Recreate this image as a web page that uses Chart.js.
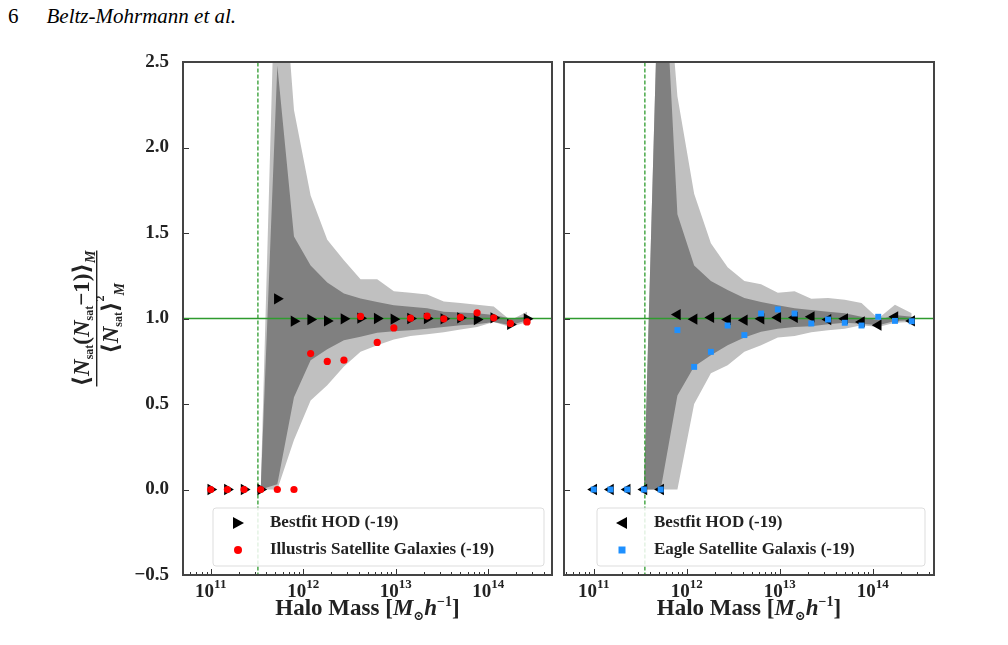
<!DOCTYPE html>
<html lang="en">
<head>
<meta charset="UTF-8">
<title>Nsat second moment</title>
<script src="https://cdn.jsdelivr.net/npm/chart.js"></script>
<style>
  body { margin: 0; background: #fff; width: 1008px; height: 645px; overflow: hidden; position: relative; }
  canvas { position: absolute; top: 0; }
  #hdr { position: absolute; top: 4px; left: 8px; font: 21px "Liberation Serif", serif; }
  #hdr i { margin-left: 28px; }
</style>
</head>
<body>
<div id="hdr">6<i>Beltz-Mohrmann et al.</i></div>
<div style="position:absolute;left:0;top:0;width:560px;height:645px"><canvas id="left"></canvas></div>
<div style="position:absolute;left:556px;top:0;width:400px;height:645px"><canvas id="right"></canvas></div>
<script>
// log10 halo mass bins
const massBins = [11.0, 11.18, 11.36, 11.54, 11.72, 11.9, 12.08, 12.26, 12.44, 12.62,
                  12.8, 12.98, 13.16, 13.34, 13.52, 13.7, 13.88, 14.06, 14.24, 14.42];
const yTicks = [-0.5, 0, 0.5, 1.0, 1.5, 2.0, 2.5];
const xTicks = [11, 12, 13, 14];

// left panel: Illustris
const hodLeft = [0, 0, 0, 0, 1.115, 0.984, 0.994, 0.986, 0.998, 1.002, 1.0, 0.996, 1.0, 1.0, 0.998, 1.004, 0.994, 1.004, 0.965, 0.998];
const illustris = [0, 0, 0, 0, 0, 0, 0.795, 0.749, 0.756, 1.012, 0.86, 0.945, 1.002, 1.014, 0.998, 1.006, 1.033, 1.004, 0.971, 0.98];
const lightUpL = [null, null, null, 0, 3.5, 2.22, 1.72, 1.46, 1.34, 1.23, 1.23, 1.16, 1.15, 1.14, 1.10, 1.09, 1.08, 1.07, 0.99, 1.04];
const lightLoL = [null, null, null, 0, 0, 0.29, 0.52, 0.61, 0.72, 0.805, 0.844, 0.877, 0.897, 0.908, 0.92, 0.936, 0.95, 0.98, 0.95, 0.98];
const darkUpL = [null, null, null, 0, 2.48, 1.48, 1.31, 1.21, 1.146, 1.117, 1.097, 1.078, 1.068, 1.06, 1.04, 1.035, 1.03, 1.02, 1.0, 1.01];
const darkLoL = [null, null, null, 0, 0.03, 0.54, 0.756, 0.82, 0.873, 0.893, 0.916, 0.926, 0.932, 0.94, 0.95, 0.96, 0.966, 0.98, 0.96, 0.99];
const cutLeft = 11.51;

// right panel: Eagle
const hodRight = [0, 0, 0, 0, 0, 1.023, 0.996, 1.006, 0.994, 0.99, 0.998, 1.006, 1.006, 1.01, 0.994, 0.998, 0.98, 0.961, 1.01, 0.986];
const eagle = [0, 0, 0, 0, 0, 0.932, 0.717, 0.805, 0.959, 0.903, 1.029, 1.053, 1.029, 0.971, 0.994, 0.975, 0.959, 1.01, 0.986, 0.984];
const lightUpR = [null, null, null, 0, 3.5, 2.30, 1.73, 1.44, 1.30, 1.22, 1.20, 1.15, 1.16, 1.115, 1.12, 1.11, 1.09, 1.0, 1.08, 1.03];
const lightLoR = [null, null, null, 0, 0, 0, 0.50, 0.68, 0.727, 0.805, 0.844, 0.889, 0.897, 0.92, 0.932, 0.94, 0.96, 0.95, 0.975, 0.98];
const darkUpR = [null, null, null, 0, 3.5, 1.61, 1.31, 1.22, 1.166, 1.12, 1.097, 1.078, 1.06, 1.05, 1.04, 1.03, 1.01, 0.99, 1.02, 1.01];
const darkLoR = [null, null, null, 0, 0, 0.55, 0.72, 0.785, 0.844, 0.889, 0.922, 0.94, 0.95, 0.954, 0.967, 0.975, 0.97, 0.96, 0.986, 0.99];
const cutRight = 11.55;

const SERIF = '"Liberation Serif", "DejaVu Serif", serif';
const sup = { '1': '¹', '2': '²', '3': '³', '4': '⁴' };

const pts = arr => massBins.map((x, i) => ({ x: x, y: arr[i] }));

// inward ticks, minor log ticks, x labels, legend and y title
const decor = {
  id: 'decor',
  afterDraw(chart, args, opts) {
    const { ctx, chartArea: a, scales: { x, y } } = chart;
    ctx.save();
    ctx.strokeStyle = '#333';
    ctx.lineWidth = 1;
    ctx.beginPath();
    yTicks.forEach(v => { const py = Math.round(y.getPixelForValue(v)) + 0.5; ctx.moveTo(a.left, py); ctx.lineTo(a.left + 6, py); });
    for (let d = 10; d <= 14; d++) {
      for (let m = 1; m < 10; m++) {
        const v = d + Math.log10(m);
        if (v < x.min || v > x.max) continue;
        const px = Math.round(x.getPixelForValue(v)) + 0.5;
        ctx.moveTo(px, a.bottom); ctx.lineTo(px, a.bottom - (m === 1 ? 6 : 3));
      }
    }
    ctx.stroke();
    ctx.lineWidth = 2;
    ctx.strokeStyle = '#444';
    ctx.strokeRect(a.left, a.top, a.right - a.left, a.bottom - a.top);

    ctx.fillStyle = '#222';
    ctx.textBaseline = 'alphabetic';
    // x tick labels with superscript exponent
    xTicks.forEach(v => {
      const px = x.getPixelForValue(v);
      ctx.font = 'bold 19px ' + SERIF;
      const w1 = ctx.measureText('10').width;
      ctx.font = 'bold 13px ' + SERIF;
      const w2 = ctx.measureText(String(v)).width;
      const sx = px - (w1 + w2) / 2;
      ctx.font = 'bold 19px ' + SERIF;
      ctx.fillText('10', sx, a.bottom + 22);
      ctx.font = 'bold 13px ' + SERIF;
      ctx.fillText(String(v), sx + w1, a.bottom + 13);
    });
    // x title
    const segs = [['Halo Mass [', 'bold 23px ' + SERIF, 0], ['M', 'italic bold 23px ' + SERIF, 0], ['⊙', 'bold 13px ' + SERIF, 5],
                  ['h', 'italic bold 23px ' + SERIF, 0], ['−1', 'bold 14px ' + SERIF, -9], [']', 'bold 23px ' + SERIF, 0]];
    let tw = 0;
    segs.forEach(s => { ctx.font = s[1]; tw += ctx.measureText(s[0]).width; });
    let tx = (a.left + a.right) / 2 - tw / 2;
    segs.forEach(s => { ctx.font = s[1]; ctx.fillText(s[0], tx, a.bottom + 40 + s[2]); tx += ctx.measureText(s[0]).width; });

    // legend
    const lx = a.left + opts.lx, ly = a.bottom - 67, lw = opts.lw, lh = 58;
    ctx.fillStyle = 'rgba(255,255,255,0.85)';
    ctx.strokeStyle = '#ddd';
    ctx.lineWidth = 1;
    ctx.beginPath();
    ctx.roundRect(lx, ly, lw, lh, 3);
    ctx.fill(); ctx.stroke();
    ctx.font = 'bold 17px ' + SERIF;
    ctx.textBaseline = 'middle';
    chart.data.datasets.filter(d => d.legend).forEach((d, i) => {
      const my = ly + 15 + i * 27, mx = lx + 25;
      ctx.fillStyle = d.backgroundColor;
      ctx.beginPath();
      if (d.pointStyle === 'triangle') {
        const dir = d.pointRotation > 0 ? 1 : -1;
        ctx.moveTo(mx - 5 * dir, my - 6); ctx.lineTo(mx + 6 * dir, my); ctx.lineTo(mx - 5 * dir, my + 6);
      } else if (d.pointStyle === 'rect') {
        ctx.rect(mx - 3.5, my - 3.5, 7, 7);
      } else {
        ctx.arc(mx, my, 4, 0, Math.PI * 2);
      }
      ctx.fill();
      ctx.fillStyle = '#222';
      ctx.fillText(d.label, lx + 57, my);
    });

    // y axis title
    if (opts.title) {
      ctx.translate(98, (a.top + a.bottom) / 2);
      ctx.rotate(-Math.PI / 2);
      ctx.fillStyle = '#222';
      const big = 'italic bold 23px ' + SERIF, reg = 'bold 23px ' + SERIF, sm = 'bold 12px ' + SERIF, smi = 'italic bold 14px ' + SERIF;
      const rich = (segs, baseY) => {
        ctx.textBaseline = 'alphabetic';
        let w = 0;
        segs.forEach(s => { ctx.font = s[1]; w += ctx.measureText(s[0]).width; });
        let cx = -w / 2;
        segs.forEach(s => { ctx.font = s[1]; ctx.fillText(s[0], cx, baseY + (s[2] || 0)); cx += ctx.measureText(s[0]).width; });
        return w;
      };
      const w = rich([['⟨', reg], ['N', big], ['sat', sm, 4], ['(', reg], ['N', big], ['sat', sm, 4], ['−1)', reg], ['⟩', reg], ['M', smi, 6]], -9);
      ctx.fillRect(-w / 2, -2, w, 1.4);
      rich([['⟨', reg], ['N', big], ['sat', sm, 4], ['⟩', reg], ['2', sm, -14], ['M', smi, 6]], 20);
    }
    ctx.restore();
  }
};

function makeChart(id, opts) {
  const datasets = [
    { label: 'Bestfit HOD (-19)', legend: true, data: pts(opts.hod), showLine: false, pointStyle: 'triangle', pointRotation: opts.rot,
      pointRadius: 6.5, backgroundColor: '#000', borderColor: '#000', borderWidth: 0, order: 1 },
    { label: opts.simLabel, legend: true, data: pts(opts.sim), showLine: false, pointStyle: opts.simStyle,
      pointRadius: opts.simStyle === 'rect' ? 4.2 : 3.6, backgroundColor: opts.simColor, borderColor: opts.simColor, borderWidth: 0, order: 0 },
    { data: [{ x: 10, y: 1 }, { x: 15, y: 1 }], borderColor: '#2e9b2e', borderWidth: 1.5, pointRadius: 0, order: 2 },
    { data: [{ x: opts.cut, y: -1 }, { x: opts.cut, y: 3 }], borderColor: '#2e9b2e', borderWidth: 1.3, borderDash: [4, 2], pointRadius: 0, order: 2 },
    { data: pts(opts.darkLo), borderWidth: 0, pointRadius: 0, borderColor: 'transparent', order: 3 },
    { data: pts(opts.darkUp), borderWidth: 0, pointRadius: 0, borderColor: 'transparent', fill: { target: 4 }, backgroundColor: '#808080', order: 3 },
    { data: pts(opts.lightLo), borderWidth: 0, pointRadius: 0, borderColor: 'transparent', order: 4 },
    { data: pts(opts.lightUp), borderWidth: 0, pointRadius: 0, borderColor: 'transparent', fill: { target: 6 }, backgroundColor: '#c0c0c0', order: 4 }
  ];
  return new Chart(document.getElementById(id), {
    type: 'line',
    data: { datasets: datasets },
    options: {
      responsive: true, maintainAspectRatio: false, animation: false,
      layout: { padding: { top: 62, right: opts.padR, bottom: 0, left: 0 } },
      elements: { line: { tension: 0 } },
      plugins: { legend: { display: false }, tooltip: { enabled: false }, decor: opts.decor },
      scales: {
        x: {
          type: 'linear', min: opts.xmin, max: opts.xmax,
          afterBuildTicks: s => { s.ticks = xTicks.map(v => ({ value: v })); },
          afterFit: s => { s.height = 70; },
          grid: { display: false }, border: { display: false },
          ticks: { display: false }
        },
        y: {
          min: -0.5, max: 2.5,
          afterBuildTicks: s => { s.ticks = yTicks.map(v => ({ value: v })); },
          afterFit: s => { s.width = opts.yw; },
          grid: { display: false }, border: { display: false },
          ticks: { display: opts.yLabels, color: '#222', padding: 6, font: { family: SERIF, size: 19, weight: 'bold' },
                   callback: v => (v < 0 ? '−' : '') + Math.abs(v).toFixed(1) }
        }
      }
    },
    plugins: [decor]
  });
}

makeChart('left', {
  hod: hodLeft, sim: illustris, simLabel: 'Illustris Satellite Galaxies (-19)', simStyle: 'circle', simColor: '#ff0000',
  rot: 90, cut: cutLeft, darkLo: darkLoL, darkUp: darkUpL, lightLo: lightLoL, lightUp: lightUpL,
  xmin: 10.70, xmax: 14.69, yw: 183, padR: 8, yLabels: true,
  decor: { lx: 30, lw: 331, title: true }
});
makeChart('right', {
  hod: hodRight, sim: eagle, simLabel: 'Eagle Satellite Galaxis (-19)', simStyle: 'rect', simColor: '#1e90ff',
  rot: -90, cut: cutRight, darkLo: darkLoR, darkUp: darkUpR, lightLo: lightLoR, lightUp: lightUpR,
  xmin: 10.68, xmax: 14.66, yw: 8, padR: 22, yLabels: false,
  decor: { lx: 33, lw: 328, title: false }
});
</script>
</body>
</html>
